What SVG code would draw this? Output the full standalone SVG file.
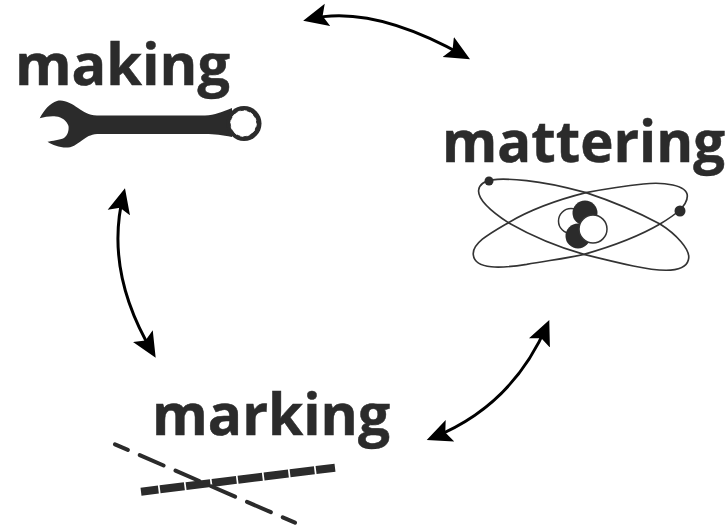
<svg xmlns="http://www.w3.org/2000/svg" width="728" height="525" viewBox="0 0 728 525">
<style>
.t{font-family:"Open Sans","Noto Sans",sans-serif;font-weight:700;font-size:57px;fill:#2b2b2b;stroke:#2b2b2b;stroke-width:.5}
.c{fill:none;stroke:#000;stroke-width:3;marker-start:url(#a);marker-end:url(#a)}
.o{fill:none;stroke:#333;stroke-width:5}
</style>
<defs>
<marker id="a" markerUnits="userSpaceOnUse" markerWidth="26" markerHeight="24" refX="19" refY="12" orient="auto-start-reverse" viewBox="0 0 26 24">
<path d="M25 12L0 0.500L5 12L0 23.500Z" fill="#000"/>
</marker>
</defs>
<rect width="728" height="525" fill="#fff"/>
<g id="connectors">
<path class="c" d="M309 19.300Q372 4 464.800 56.300"/>
<path class="c" d="M123.500 194.100Q104 271 152.600 352.500"/>
<path class="c" d="M546.900 325.500Q512 406 432.300 437.800"/>
</g>
<g id="making">
<text class="t" x="15" y="85" textLength="215" lengthAdjust="spacingAndGlyphs">making</text>
<path fill="#2b2b2b" d="M39.700 118.300C44 110 50 103 57 101C64 99 72 104 78 108C84 112 88 115 97 115.500L205 115.500C215 115 222 112 232 108L232 137C222 135 215 134 205 134L100 134C92 134 88 136 84 139C78 143 74 147 68 147.500C60 148 53 145 47.500 141.700C52 141 60 140 64 138C68 135 69 130 68.500 126C67 121 62 117 56 116.500C50 116 45 117 39.700 118.300Z"/>
<circle cx="244" cy="123.500" r="17.500" fill="#2b2b2b"/>
<circle cx="243.500" cy="123.500" r="12.800" fill="#fff" stroke="#fff" stroke-width="1" stroke-dasharray="3.350 3.350"/>
</g>
<g id="mattering">
<text class="t" x="442" y="162" textLength="283" lengthAdjust="spacingAndGlyphs">mattering</text>
<g transform="translate(430 110) scale(.33333)">
<path class="o" d="M146 240C150 205 205 203 290 212C350 218 420 235 468 248C550 275 630 310 690 342C735 370 785 420 775 450C765 490 690 485 610 468C550 455 510 445 462 433C380 410 300 375 235 338C185 305 142 270 146 240Z"/>
<path class="o" d="M772 258C772 225 700 215 640 222C580 228 520 238 468 248C380 270 300 300 235 338C180 370 125 400 130 435C135 480 215 475 290 463C350 452 410 445 462 433C550 408 625 380 690 342C730 318 772 290 772 258Z"/>
</g>
<circle cx="489" cy="181" r="4.500" fill="#2b2b2b"/>
<circle cx="680" cy="211" r="5.500" fill="#2b2b2b"/>
<circle cx="571" cy="221" r="12.500" fill="#fff" stroke="#333" stroke-width="1.500"/>
<circle cx="585" cy="213" r="12.500" fill="#2b2b2b"/>
<circle cx="578" cy="236" r="12.500" fill="#2b2b2b"/>
<circle cx="593" cy="229" r="14" fill="#fff" stroke="#333" stroke-width="1.500"/>
</g>
<g id="marking">
<text class="t" x="152" y="435" textLength="238" lengthAdjust="spacingAndGlyphs">marking</text>
<path d="M141 491.700L335 467.700" fill="none" stroke="#2b2b2b" stroke-width="8" stroke-dasharray="24.500 1.700" stroke-dashoffset="7"/>
<path d="M115 444.300L295 522.700" fill="none" stroke="#2b2b2b" stroke-width="4" stroke-dasharray="26 13" stroke-dashoffset="12" stroke-linecap="round"/>
</g>
</svg>
